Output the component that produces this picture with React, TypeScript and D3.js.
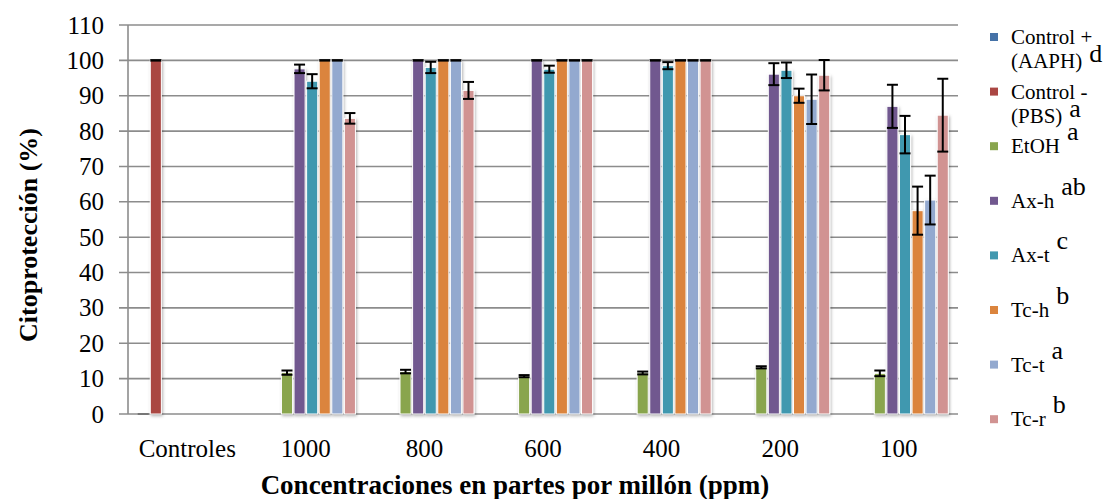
import React from "react";
import * as d3 from "d3";

const categories = ["Controles", "1000", "800", "600", "400", "200", "100"];
const seriesNames = ["Control +", "Control -", "EtOH", "Ax-h", "Ax-t", "Tc-h", "Tc-t", "Tc-r"];
const legendLines = [["Control +", "(AAPH)"], ["Control -", "(PBS)"], ["EtOH"], ["Ax-h"], ["Ax-t"], ["Tc-h"], ["Tc-t"], ["Tc-r"]];
const legendSup = ["d", "a", "a", "ab", "c", "b", "a", "b"];
const colors = ["#4572A7", "#AA4643", "#89A54E", "#71588F", "#4198AF", "#DB843D", "#93A9CF", "#D19392"];

// values per series across categories (null = no bar)
const controlPos = [0, null, null, null, null, null, null];
const controlNeg = [100, null, null, null, null, null, null];
const etoh = [null, 11.7, 12.0, 10.7, 11.6, 13.2, 11.5];
const axH = [null, 97.6, 100, 100, 100, 96.1, 87.0];
const axT = [null, 94.1, 98.0, 97.5, 98.5, 97.2, 79.0];
const tcH = [null, 100, 100, 100, 100, 90.0, 57.5];
const tcT = [null, 100, 100, 100, 100, 89.0, 60.5];
const tcR = [null, 83.6, 91.5, 100, 100, 95.8, 84.5];

const errPos = [0, null, null, null, null, null, null];
const errNeg = [0, null, null, null, null, null, null];
const errEtoh = [null, 0.6, 0.5, 0.3, 0.4, 0.3, 0.8];
const errAxH = [null, 1.2, 0, 0, 0, 3.1, 6.1];
const errAxT = [null, 2.0, 1.6, 1.0, 1.0, 2.2, 5.3];
const errTcH = [null, 0, 0, 0, 0, 2.0, 6.8];
const errTcT = [null, 0, 0, 0, 0, 7.0, 6.9];
const errTcR = [null, 1.5, 2.4, 0, 0, 4.3, 10.3];

const values = [controlPos, controlNeg, etoh, axH, axT, tcH, tcT, tcR];
const errors = [errPos, errNeg, errEtoh, errAxH, errAxT, errTcH, errTcT, errTcR];
const yTicks = [0, 10, 20, 30, 40, 50, 60, 70, 80, 90, 100, 110];

const W = 1104;
const H = 499;
const left = 128;
const right = 958;
const top = 25;
const bottom = 414;
const FAM = "Liberation Serif";

export default function App() {
  const y = d3.scaleLinear().domain([0, 110]).range([bottom, top]);
  const x0 = d3.scaleBand<string>().domain(categories).range([left, right]);
  const bw = x0.bandwidth();
  const x1 = d3.scaleBand<string>().domain(seriesNames).range([9.7, bw - 9.7]).paddingInner(0.12);
  const legendY = d3.scaleLinear().domain([0, 7]).range([37, 419.2]);

  const bars: React.ReactNode[] = [];
  const errs: React.ReactNode[] = [];
  seriesNames.forEach((s, si) => {
    categories.forEach((c, ci) => {
      const v = values[si][ci];
      if (v === null) return;
      const bx = (x0(c) as number) + (x1(s) as number);
      const w = x1.bandwidth();
      const yt = y(v);
      if (v > 0) {
        bars.push(
          <rect key={`b${si}-${ci}`} x={bx} y={yt} width={w} height={bottom - yt}
            fill={colors[si]} stroke="#ffffff" strokeWidth={1} filter="url(#shadow)" />
        );
      }
      const e = errors[si][ci];
      if (e !== null) {
        const cx = bx + w / 2;
        const hi = y(Math.min(v + e, 110));
        const lo = y(v - e);
        if (e === 0) {
          errs.push(<line key={`e${si}-${ci}`} x1={bx} x2={bx + w} y1={yt} y2={yt}
            stroke={v === 0 ? "#666" : "#000"} strokeWidth={v === 0 ? 1.5 : 2.5} />);
        } else {
          errs.push(
            <g key={`e${si}-${ci}`} stroke="#000" strokeWidth={2}>
              <line x1={cx} x2={cx} y1={hi} y2={lo} />
              <line x1={cx - 5.5} x2={cx + 5.5} y1={hi} y2={hi} />
              <line x1={cx - 5.5} x2={cx + 5.5} y1={lo} y2={lo} />
            </g>
          );
        }
      }
    });
  });

  return (
    <svg width={W} height={H} style={{ position: "absolute", left: 0, top: 0, background: "#fff" }}>
      <style>{`text, tspan { font-family: "Liberation Serif", serif; }`}</style>
      <defs>
        <filter id="shadow" x="-40%" y="-10%" width="180%" height="120%">
          <feDropShadow dx={1} dy={1.5} stdDeviation={1.6} floodColor="#000" floodOpacity={0.3} />
        </filter>
      </defs>
      {yTicks.map((t) => (
        <line key={`g${t}`} x1={left - 9} x2={right} y1={y(t)} y2={y(t)} stroke="#8c8c8c" strokeWidth={1.6} />
      ))}
      {yTicks.map((t) => (
        <text key={`t${t}`} x={104} y={y(t) + 8.5} textAnchor="end" fontSize={25} fontFamily={FAM} fill="#000">{t}</text>
      ))}
      <line x1={left} x2={left} y1={top} y2={bottom} stroke="#8c8c8c" strokeWidth={1.6} />
      {bars}
      {errs}
      {categories.map((c) => (
        <text key={`x${c}`} x={(x0(c) as number) + bw / 2} y={457} textAnchor="middle" fontSize={25} fontFamily={FAM} fill="#000">{c}</text>
      ))}
      <text x={515} y={494} textAnchor="middle" fontSize={27} fontWeight="bold" fontFamily={FAM} fill="#000">
        Concentraciones en partes por millón (ppm)
      </text>
      <text transform={`translate(37,235) rotate(-90)`} textAnchor="middle" fontSize={26} fontWeight="bold" fontFamily={FAM} fill="#000">
        Citoprotección (%)
      </text>
      {seriesNames.map((s, i) => {
        const cy = legendY(i);
        const lines = legendLines[i];
        return (
          <g key={`l${s}`}>
            <rect x={990} y={cy - 4} width={8} height={8} fill={colors[i]} />
            <text x={1011} y={cy + 7} fontSize={21} fontFamily={FAM} fill="#000">
              {lines.map((ln, li) => (
                <tspan key={li} x={1011} dy={li === 0 ? 0 : 24}>{ln}</tspan>
              ))}
              <tspan dx={7} dy={lines.length > 1 ? -6 : -13} fontSize={26}>{legendSup[i]}</tspan>
            </text>
          </g>
        );
      })}
    </svg>
  );
}
